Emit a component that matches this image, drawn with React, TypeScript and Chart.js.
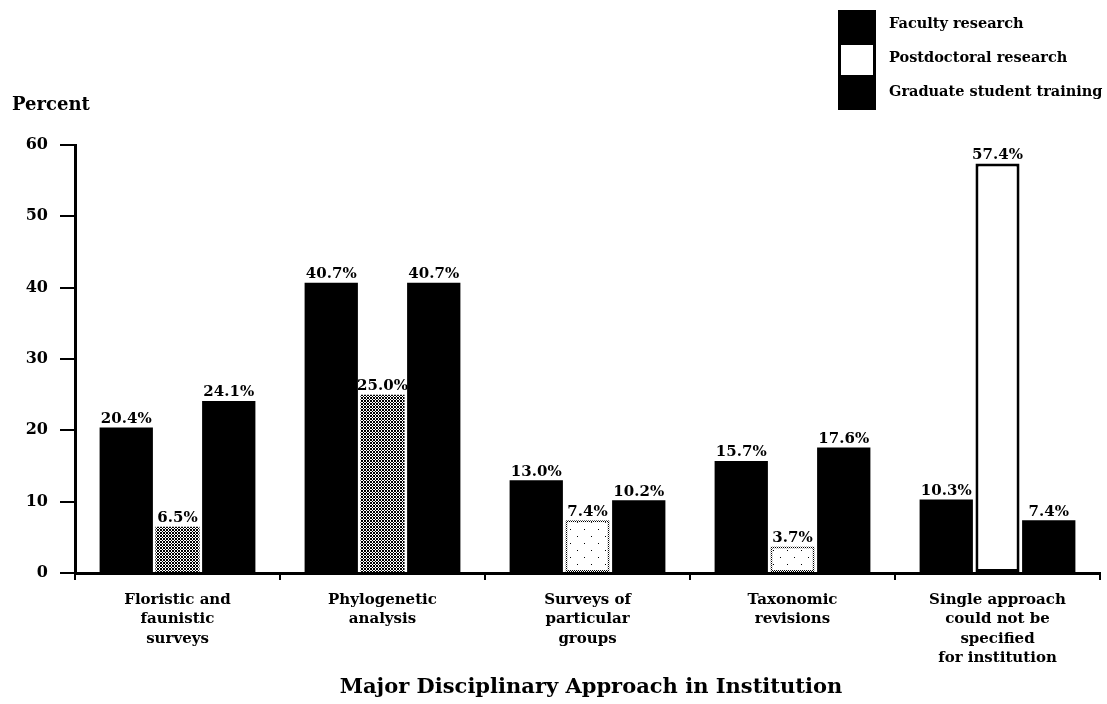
import React, { useEffect, useRef } from "react";
import { Chart, registerables } from "chart.js";

Chart.register(...registerables);

// Share of institutions by major disciplinary approach (n = 108)
const categories: string[][] = [
  ["Floristic and", "faunistic", "surveys"],
  ["Phylogenetic", "analysis"],
  ["Surveys of", "particular", "groups"],
  ["Taxonomic", "revisions"],
  ["Single approach", "could not be", "specified", "for institution"],
];
const facultyResearch = [20.4, 40.7, 13.0, 15.7, 10.3];
const postdoctoralResearch = [6.5, 25.0, 7.4, 3.7, 57.4];
const graduateTraining = [24.1, 40.7, 10.2, 17.6, 7.4];
const yTicks = [0, 10, 20, 30, 40, 50, 60];

const seriesNames = ["Faculty research", "Postdoctoral research", "Graduate student training"];
const yTitle = "Percent";
const xTitle = "Major Disciplinary Approach in Institution";

const SERIF = '"DejaVu Serif", "Liberation Serif", serif';

function makePattern(size: number, paint: (x: number, y: number) => boolean, base = "#fff", ink = "#000") {
  const c = document.createElement("canvas");
  c.width = size;
  c.height = size;
  const g = c.getContext("2d")!;
  g.fillStyle = base;
  g.fillRect(0, 0, size, size);
  g.fillStyle = ink;
  for (let y = 0; y < size; y++) {
    for (let x = 0; x < size; x++) {
      if (paint(x, y)) g.fillRect(x, y, 1, 1);
    }
  }
  return g.createPattern(c, "repeat")!;
}

export default function App() {
  const ref = useRef<HTMLCanvasElement | null>(null);

  useEffect(() => {
    const canvas = ref.current!;
    const ctx = canvas.getContext("2d")!;

    // screen-like fills for the postdoctoral bars
    const dense = makePattern(6, (x, y) => (x + y) % 3 === 0 || (x - y + 9) % 3 === 0);
    const sparse = makePattern(14, (x, y) => (x === 3 && y === 4) || (x === 10 && y === 11));
    const dotted = makePattern(2, (x, y) => (x + y) % 2 === 0);

    const labelPlugin = {
      id: "valueLabels",
      afterDatasetsDraw(chart: any) {
        const c = chart.ctx;
        c.save();
        c.font = `bold 15px ${SERIF}`;
        c.fillStyle = "#000";
        c.textAlign = "center";
        c.textBaseline = "bottom";
        chart.data.datasets.forEach((ds: any, di: number) => {
          const meta = chart.getDatasetMeta(di);
          meta.data.forEach((el: any, i: number) => {
            const v = ds.data[i] as number;
            c.fillText(`${v.toFixed(1)}%`, el.x, el.y - 1);
          });
        });
        c.restore();
      },
    };

    const decorPlugin = {
      id: "decor",
      afterDraw(chart: any) {
        const c = chart.ctx;
        c.save();
        c.fillStyle = "#000";
        // axis titles
        c.font = `bold 18px ${SERIF}`;
        c.textAlign = "left";
        c.textBaseline = "alphabetic";
        c.fillText(yTitle, 12, 110);
        c.font = `bold 21px ${SERIF}`;
        c.textAlign = "center";
        c.textBaseline = "middle";
        c.fillText(xTitle, 591, 688);

        // legend: stacked swatches
        const bx = 838, bw = 38;
        c.fillStyle = "#000";
        c.fillRect(bx, 10, bw, 33);
        c.fillRect(bx, 77, bw, 33);
        c.fillStyle = "#fff";
        c.fillRect(bx, 43, bw, 34);
        c.strokeStyle = "#000";
        c.lineWidth = 3;
        c.strokeRect(bx + 1.5, 43.5, bw - 3, 33);
        c.fillStyle = "#000";
        c.font = `bold 14.5px ${SERIF}`;
        c.textAlign = "left";
        c.textBaseline = "middle";
        c.fillText(seriesNames[0], 889, 24);
        c.fillText(seriesNames[1], 889, 58);
        c.fillText(seriesNames[2], 889, 92);
        c.restore();
      },
    };

    const chart = new Chart(ctx, {
      type: "bar",
      data: {
        labels: categories,
        datasets: [
          {
            label: seriesNames[0],
            data: facultyResearch,
            backgroundColor: "#000",
            borderWidth: 0,
            barPercentage: 1.04,
            categoryPercentage: 0.75,
          },
          {
            label: seriesNames[1],
            data: postdoctoralResearch,
            backgroundColor: [dense, dense, sparse, sparse, "#fff"],
            borderColor: ["#000", "#000", dotted, dotted, "#000"],
            borderWidth: [0, 0, 2, 2, 3],
            borderSkipped: false,
            barPercentage: 0.86,
            categoryPercentage: 0.75,
          },
          {
            label: seriesNames[2],
            data: graduateTraining,
            backgroundColor: "#000",
            borderWidth: 0,
            barPercentage: 1.04,
            categoryPercentage: 0.75,
          },
        ],
      },
      options: {
        responsive: false,
        animation: false,
        layout: { padding: { top: 145, right: 7, left: 0, bottom: 0 } },
        plugins: {
          legend: { display: false },
          tooltip: { enabled: false },
          title: { display: false },
        },
        scales: {
          x: {
            offset: true,
            grid: {
              display: true,
              drawOnChartArea: false,
              drawTicks: true,
              tickLength: 7,
              color: "#000",
              lineWidth: 2,
              offset: true,
            },
            border: { display: true, color: "#000", width: 3 },
            ticks: {
              color: "#000",
              font: { family: SERIF, size: 15, weight: "bold", lineHeight: 1.3 },
              padding: 10,
              maxRotation: 0,
              autoSkip: false,
            },
            afterFit: (s: any) => {
              s.height = 131;
            },
          },
          y: {
            min: 0,
            max: 60,
            afterBuildTicks: (s: any) => {
              s.ticks = yTicks.map((v) => ({ value: v }));
            },
            grid: {
              display: true,
              drawOnChartArea: false,
              drawTicks: true,
              tickLength: 15,
              color: "#000",
              lineWidth: 2,
            },
            border: { display: true, color: "#000", width: 3 },
            ticks: {
              color: "#000",
              font: { family: SERIF, size: 16, weight: "bold" },
              padding: 12,
            },
            afterFit: (s: any) => {
              s.width = 75;
            },
          },
        },
      },
      plugins: [labelPlugin, decorPlugin],
    } as any);

    return () => chart.destroy();
  }, []);

  return (
    <div style={{ position: "absolute", left: 0, top: 0, width: 1107, height: 704, background: "#fff" }}>
      <canvas ref={ref} width={1107} height={704} />
    </div>
  );
}
